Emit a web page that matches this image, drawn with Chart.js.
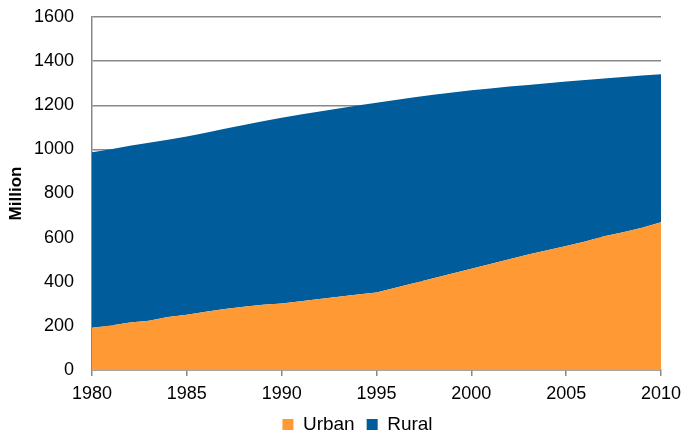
<!DOCTYPE html>
<html>
<head>
<meta charset="utf-8">
<script src="https://cdn.jsdelivr.net/npm/chart.js@4.4.0/dist/chart.umd.min.js"></script>
<style>
  html, body { margin: 0; padding: 0; background: #fff; }
  #wrap { width: 685px; height: 432px; }
</style>
</head>
<body>
<div id="wrap"><canvas id="popChart"></canvas></div>
<script>
const years = [1980, 1981, 1982, 1983, 1984, 1985, 1986, 1987, 1988, 1989, 1990,
  1991, 1992, 1993, 1994, 1995, 1996, 1997, 1998, 1999, 2000,
  2001, 2002, 2003, 2004, 2005, 2006, 2007, 2008, 2009, 2010];
const urban = [191.40, 201.71, 214.80, 222.74, 240.17, 250.94, 263.66, 276.74, 286.61, 295.40, 301.95,
  312.03, 321.75, 331.73, 341.69, 351.74, 373.04, 394.49, 416.08, 437.48, 459.06,
  480.64, 502.12, 523.76, 542.83, 562.12, 582.88, 606.33, 624.03, 645.12, 669.78];
const rural = [795.65, 799.01, 801.74, 807.34, 803.40, 807.57, 811.41, 816.26, 823.65, 831.64, 841.38,
  846.20, 849.96, 853.44, 856.81, 859.47, 850.85, 841.77, 831.53, 820.38, 808.37,
  795.63, 782.41, 768.51, 757.05, 745.44, 731.60, 714.96, 703.99, 689.38, 671.13];
const yTicks = [0, 200, 400, 600, 800, 1000, 1200, 1400, 1600];

const toPoints = arr => years.map((yr, i) => ({ x: yr, y: arr[i] }));
const font = 'Liberation Sans, Arial, sans-serif';

// nudge the legend to the right, like the original
const legendShift = {
  id: 'legendShift',
  afterLayout(chart) {
    chart.legend.left += 27;
    chart.legend.right += 27;
  }
};

new Chart(document.getElementById('popChart'), {
  type: 'line',
  data: {
    datasets: [{
      label: 'Urban',
      data: toPoints(urban),
      backgroundColor: '#FF9933',
      borderWidth: 0,
      pointRadius: 0,
      fill: 'origin'
    }, {
      label: 'Rural',
      data: toPoints(rural),
      backgroundColor: '#005C9A',
      borderWidth: 0,
      pointRadius: 0,
      fill: '-1'
    }]
  },
  plugins: [legendShift],
  options: {
    responsive: true,
    maintainAspectRatio: false,
    animation: false,
    layout: { padding: { top: 17, right: 24, left: 0, bottom: -12 } },
    scales: {
      x: {
        type: 'linear',
        min: 1980,
        max: 2010,
        afterFit: axis => { axis.height = 33; axis.paddingRight = 0; axis.paddingLeft = 0; },
        ticks: {
          stepSize: 5,
          font: { family: font, size: 18 },
          color: '#000',
          padding: 7,
          callback: v => String(v)
        },
        grid: { drawOnChartArea: false, drawTicks: true, tickLength: 6, color: '#888', lineWidth: 1.5 },
        border: { color: '#888', width: 1.5 }
      },
      y: {
        stacked: true,
        min: 0,
        max: 1600,
        afterBuildTicks: axis => { axis.ticks = yTicks.map(v => ({ value: v })); },
        afterFit: axis => { axis.width = 92; axis.paddingTop = 0; },
        ticks: {
          font: { family: font, size: 18 },
          color: '#000',
          padding: 18,
          callback: v => String(v)
        },
        grid: { color: '#888', lineWidth: 1.5, drawTicks: false },
        border: { color: '#888', width: 1.5 },
        title: {
          display: true,
          text: 'Million',
          font: { family: font, size: 17, weight: 'bold' },
          color: '#000',
          padding: { top: 6, bottom: 0 }
        }
      }
    },
    plugins: {
      legend: {
        position: 'bottom',
        labels: {
          boxWidth: 11,
          boxHeight: 11,
          padding: 12,
          font: { family: font, size: 19 },
          color: '#000'
        }
      },
      tooltip: { enabled: false }
    }
  }
});
</script>
</body>
</html>
